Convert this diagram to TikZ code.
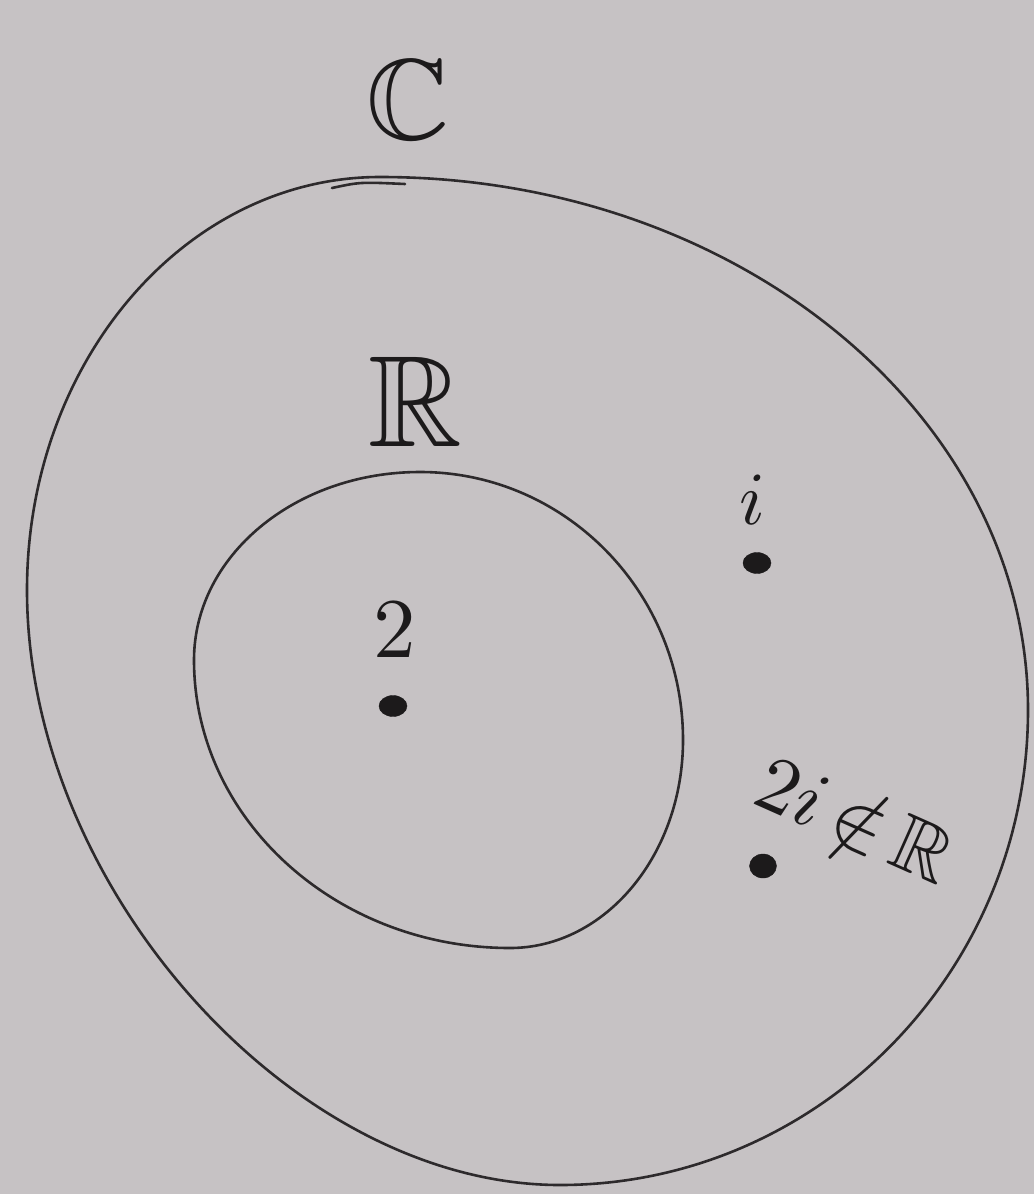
\documentclass[tikz,border=0pt]{standalone}
\usepackage{amssymb}
\usetikzlibrary{shapes.geometric}
\definecolor{paper}{RGB}{198,194,196}
\definecolor{ink}{RGB}{28,26,27}
\definecolor{pen}{RGB}{45,42,44}
\tikzset{
  setline/.style={draw=pen, line width=2.6pt, line join=round, line cap=round},
  lbl/.style={text=ink, inner sep=0pt},
  pt/.style={ellipse, fill=ink, draw=ink, inner sep=0pt, minimum width=28pt, minimum height=21pt}
}
\begin{document}
\begin{tikzpicture}[x=1pt,y=-1pt]
\fill[paper] (0,0) rectangle (1034,1194);
\useasboundingbox (0,0) rectangle (1034,1194);
% outer set C
\coordinate (cT) at (380,177);
\coordinate (cR) at (1028,710);
\coordinate (cB) at (560,1185);
\coordinate (cL) at (27,590);
\draw[setline] (cT) .. controls (738,177) and (1028,416) .. (cR)
  .. controls (1028,972) and (818,1185) .. (cB)
  .. controls (293,1185) and (27,888) .. (cL)
  .. controls (27,362) and (185,177) .. (cT) -- cycle;
\draw[setline] (332,188) .. controls (360,182) .. (405,184);
% inner set R
\coordinate (rT) at (420,472);
\coordinate (rR) at (683,740);
\coordinate (rB) at (510,948);
\coordinate (rL) at (194,660);
\draw[setline] (rT) .. controls (565,472) and (683,592) .. (rR)
  .. controls (683,855) and (605,948) .. (rB)
  .. controls (336,948) and (194,819) .. (rL)
  .. controls (194,556) and (295,472) .. (rT) -- cycle;
% labels
\node[lbl, scale=11.5] (lC) at (408,100) {$\mathbb{C}$};
\node[lbl, scale=13] (lR) at (415,402) {$\mathbb{R}$};
\node[lbl, scale=8.5] (l2) at (395,630) {$2$};
\node[pt] (p2) at (393,706) {};
\node[lbl, scale=7.5] (li) at (752,500) {$i$};
\node[pt] (pi) at (757,563) {};
\node[lbl, scale=8, rotate=-24] (l2i) at (856,818) {$2i\,{\notin}\,\mathbb{R}$};
\node[pt, minimum width=27pt, minimum height=24pt] (p2i) at (763,866) {};
\end{tikzpicture}
\end{document}
